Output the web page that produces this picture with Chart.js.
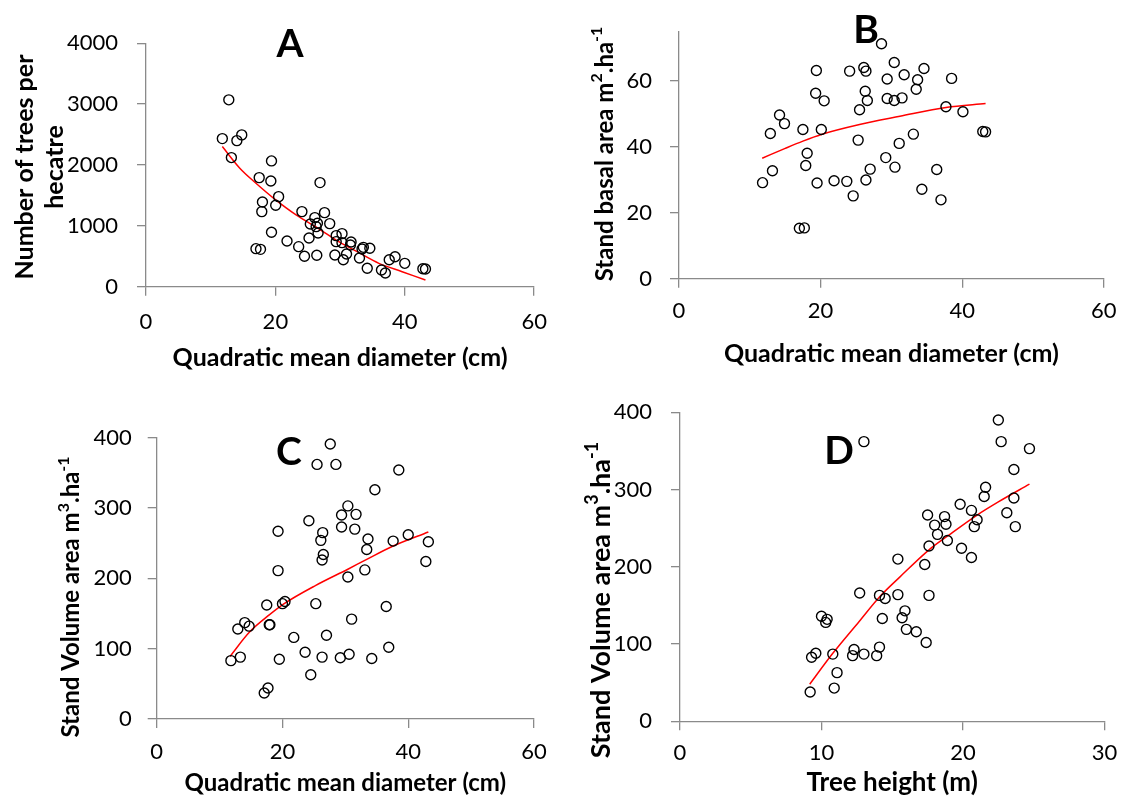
<!DOCTYPE html>
<html>
<head>
<meta charset="utf-8">
<script src="https://cdn.jsdelivr.net/npm/chart.js@4.4.1/dist/chart.umd.min.js"></script>
<style>
  body { margin: 0; background: #fff; }
  #wrap { position: relative; width: 1127px; height: 798px; overflow: hidden; background: #fff; }
  canvas { position: absolute; }
</style>
</head>
<body>
<div id="wrap">
  <canvas id="chartA" width="560" height="380" style="left:0;top:0"></canvas>
  <canvas id="chartB" width="567" height="380" style="left:560px;top:0"></canvas>
  <canvas id="chartC" width="560" height="418" style="left:0;top:380px"></canvas>
  <canvas id="chartD" width="567" height="418" style="left:560px;top:380px"></canvas>
</div>
<script>
// Panel A - trees per hectare vs quadratic mean diameter
const qmdA = [12.8, 11.8, 14.05, 14.8, 13.2, 19.4, 17.5, 19.3, 26.9, 20.5, 18.0, 20.05, 17.9, 24.1, 27.6, 26.1, 25.4, 26.5, 28.4, 26.3,
  26.6, 19.4, 25.2, 21.8, 29.4, 30.3, 29.4, 30.3, 31.7, 31.6, 33.4, 34.6, 33.6, 17.0, 17.7, 23.6, 24.5, 26.4, 29.2, 31.0,
  30.5, 33.0, 34.2, 37.6, 38.5, 40.0, 36.4, 37.0, 42.8, 43.2];
const treesA = [3071, 2434, 2401, 2495, 2122, 2067, 1793, 1738, 1711, 1480, 1393, 1338, 1234, 1234, 1217, 1135, 1031, 1042, 1037, 987,
  883, 894, 801, 752, 839, 872, 740, 724, 735, 686, 620, 631, 647, 625, 614, 658, 500, 516, 521, 538,
  444, 472, 302, 444, 493, 384, 275, 225, 296, 291];
const fitQmdA = [11.8, 14.5, 17.0, 20.05, 23.2, 26.6, 29.8, 32.9, 36.0, 39.6, 43.2];
const fitTreesA = [2303, 1947, 1700, 1426, 1179, 960, 740, 559, 384, 247, 110];

// Panel B - stand basal area
const qmdB = [28.6, 19.4, 24.1, 26.1, 26.4, 30.4, 34.6, 31.8, 29.4, 33.7, 38.5, 33.5, 19.3, 26.3, 20.5, 26.6, 29.4, 30.4, 31.5, 25.5,
  37.7, 40.1, 14.2, 14.9, 12.9, 17.5, 20.1, 33.1, 42.9, 43.3, 25.3, 31.1, 18.1, 29.2, 17.9, 30.5, 13.2, 27.0, 36.4, 11.8,
  19.5, 21.9, 23.7, 26.4, 34.3, 24.6, 37.0, 17.0, 17.7];
const basalB = [71.2, 63.1, 62.9, 64.0, 62.9, 65.5, 63.7, 61.8, 60.5, 60.3, 60.7, 57.4, 56.2, 56.8, 53.9, 54.0, 54.6, 54.0, 54.8, 51.2,
  52.1, 50.6, 49.6, 47.0, 44.0, 45.2, 45.2, 43.8, 44.6, 44.5, 42.0, 41.0, 38.0, 36.7, 34.3, 33.8, 32.7, 33.2, 33.1, 29.1,
  29.0, 29.7, 29.5, 29.9, 27.1, 25.1, 23.9, 15.3, 15.4];
const fitQmdB = [11.75, 15.0, 17.5, 20.1, 25.5, 31.2, 37.7, 43.3];
const fitBasalB = [36.5, 39.5, 41.7, 43.7, 46.7, 49.2, 51.9, 53.1];

// Panel C - stand volume vs diameter
const qmdC = [27.6, 25.5, 28.5, 38.5, 34.7, 30.4, 29.4, 31.7, 24.2, 29.4, 31.5, 19.3, 26.4, 26.1, 33.6, 37.6, 40.0, 43.2, 33.4, 26.5,
  26.3, 42.8, 19.3, 33.1, 30.4, 17.5, 20.0, 20.4, 25.3, 36.5, 14.0, 14.7, 12.9, 17.9, 18.0, 31.0, 27.0, 21.8, 23.6, 36.9,
  11.8, 13.3, 19.5, 26.3, 29.2, 30.6, 34.2, 24.5, 17.1, 17.7];
const volC = [391, 362, 362, 354, 326, 303, 290, 291, 282, 273, 270, 267, 265, 254, 256, 253, 262, 252, 241, 234,
  226, 224, 211, 212, 202, 162, 164, 167, 164, 160, 137, 132, 128, 134, 134, 142, 119, 116, 95, 102,
  83, 88, 85, 88, 87, 92, 86, 63, 37, 44];
const fitQmdC = [11.65, 14.8, 17.9, 20.1, 25.3, 30.4, 33.4, 37.6, 43.2];
const fitVolC = [89, 124, 148, 163, 190, 213, 227, 246, 266];

// Panel D - stand volume vs tree height
const heightD = [22.5, 22.7, 24.7, 13.0, 23.6, 21.6, 21.5, 23.6, 19.8, 20.6, 23.1, 21.0, 20.8, 23.7, 17.5, 18.7, 18.0, 18.8, 18.2, 18.9,
  17.6, 19.9, 20.6, 15.4, 17.3, 12.7, 14.1, 14.5, 15.4, 17.6, 15.9, 15.7, 14.3, 16.0, 16.7, 17.4, 10.0, 10.4, 10.3, 9.6,
  9.3, 10.8, 12.3, 12.2, 13.0, 14.1, 13.9, 11.1, 10.9, 9.2];
const volD = [390, 362, 353, 362, 326, 303, 291, 289, 281, 273, 270, 261, 252, 252, 267, 265, 254, 255, 242, 234,
  227, 224, 212, 210, 203, 166, 163, 159, 164, 163, 143, 134, 133, 119, 116, 102, 136, 132, 128, 88,
  83, 87, 93, 85, 87, 96, 85, 63, 43, 38];
const fitHeightD = [9.17, 10.8, 12.65, 14.1, 15.55, 17.6, 19.0, 21.0, 22.5, 24.7];
const fitVolD = [48, 88, 129, 161, 187, 222, 241, 267, 284, 307];

const FONT = 'Lato, "DejaVu Sans", sans-serif';
const AXIS_GREY = '#8a8a8a';
const TICK_SIZE = 22;
Chart.defaults.font.family = FONT;
Chart.defaults.color = '#000';

const pairs = (xs, ys) => xs.map((x, i) => ({ x: x, y: ys[i] }));

// draws one rotated title line, parts with sup:true are raised and smaller
function drawRotated(ctx, parts, cx, cy, size) {
  const base = 'bold ' + size + 'px ' + FONT;
  const small = 'bold ' + Math.round(size * 0.65) + 'px ' + FONT;
  ctx.save();
  ctx.translate(cx, cy);
  ctx.rotate(-Math.PI / 2);
  ctx.textAlign = 'left';
  ctx.textBaseline = 'middle';
  let total = 0;
  parts.forEach(p => { ctx.font = p.sup ? small : base; total += ctx.measureText(p.t).width; });
  let x = -total / 2;
  parts.forEach(p => {
    ctx.font = p.sup ? small : base;
    ctx.fillText(p.t, x, p.sup ? -size * 0.34 : 0);
    x += ctx.measureText(p.t).width;
  });
  ctx.restore();
}

function textPlugin(cfg) {
  return {
    id: 'panelText',
    afterDraw(chart) {
      const ctx = chart.ctx;
      ctx.save();
      ctx.fillStyle = '#000';
      ctx.font = 'bold 39px ' + FONT;
      ctx.textAlign = 'center';
      ctx.textBaseline = 'middle';
      ctx.fillText(cfg.letter, cfg.letterX, cfg.letterY);
      cfg.yTitle.forEach((line, i) => drawRotated(ctx, line, cfg.titleX[i], cfg.titleY, cfg.titleSize));
      ctx.restore();
    }
  };
}

function makePanel(id, p) {
  const yStep = p.yStep;
  new Chart(document.getElementById(id), {
    type: 'scatter',
    data: {
      datasets: [
        {
          data: pairs(p.xs, p.ys),
          pointStyle: 'circle',
          pointRadius: 5,
          pointHoverRadius: 5,
          pointBorderWidth: 1.4,
          pointBorderColor: '#000',
          pointBackgroundColor: 'rgba(0,0,0,0)',
          showLine: false
        },
        {
          data: pairs(p.fitX, p.fitY),
          showLine: true,
          borderColor: '#ff0000',
          borderWidth: 1.5,
          pointRadius: 0,
          cubicInterpolationMode: 'monotone',
          fill: false
        }
      ]
    },
    options: {
      responsive: false,
      animation: false,
      devicePixelRatio: 1,
      layout: { padding: { top: p.padTop, right: p.padRight, left: 0, bottom: 0 } },
      plugins: { legend: { display: false }, tooltip: { enabled: false } },
      scales: {
        x: {
          type: 'linear',
          min: 0,
          max: p.xMax,
          ticks: { stepSize: p.xStep, padding: p.xTickPad - 0.6, font: { size: TICK_SIZE }, color: '#000', maxRotation: 0,
            callback: v => String(v) },
          grid: { display: true, drawOnChartArea: false, drawTicks: true, tickLength: 9, color: AXIS_GREY, lineWidth: 1.3 },
          border: { display: true, color: AXIS_GREY, width: 1.3 },
          title: {
            display: true,
            text: p.xTitle,
            color: '#000',
            font: { size: p.xTitleSize, weight: 'bold', lineHeight: 1.2 },
            padding: { top: 0, bottom: p.xTitlePad }
          },
          afterFit: s => { s.height = p.xHeight; }
        },
        y: {
          type: 'linear',
          min: 0,
          max: p.yMax,
          ticks: { stepSize: yStep, padding: p.yTickPad, font: { size: TICK_SIZE }, color: '#000',
            callback: v => String(v) },
          afterBuildTicks: s => { s.ticks = s.ticks.filter(t => t.value % yStep === 0); },
          grid: { display: true, drawOnChartArea: false, drawTicks: true, tickLength: 9, color: AXIS_GREY, lineWidth: 1.3 },
          border: { display: true, color: AXIS_GREY, width: 1.3 },
          afterFit: s => { s.width = p.yWidth; }
        }
      }
    },
    plugins: [textPlugin(p.text)]
  });
}

makePanel('chartA', {
  xs: qmdA, ys: treesA, fitX: fitQmdA, fitY: fitTreesA,
  xMax: 60, xStep: 20, yMax: 4000, yStep: 1000,
  padTop: 43.3, padRight: 24, yWidth: 146, xHeight: 93.3,
  xTickPad: 13.7, yTickPad: 19, xTitlePad: 7, xTitleSize: 25,
  xTitle: 'Quadratic mean diameter (cm)',
  text: {
    letter: 'A', letterX: 290, letterY: 44, titleSize: 25,
    yTitle: [[{ t: 'Number of trees per' }], [{ t: 'hecatre' }]],
    titleX: [25, 55], titleY: 167
  }
});

makePanel('chartB', {
  xs: qmdB, ys: basalB, fitX: fitQmdB, fitY: fitBasalB,
  xMax: 60, xStep: 20, yMax: 75, yStep: 20,
  padTop: 18.7, padRight: 16.3, yWidth: 119, xHeight: 101.3,
  xTickPad: 11, yTickPad: 18, xTitlePad: 11, xTitleSize: 25,
  xTitle: 'Quadratic mean diameter (cm)',
  text: {
    letter: 'B', letterX: 306, letterY: 30, titleSize: 24,
    yTitle: [[{ t: 'Stand basal area m' }, { t: '2', sup: true }, { t: '.ha' }, { t: '-1', sup: true }]],
    titleX: [45], titleY: 154
  }
});

makePanel('chartC', {
  xs: qmdC, ys: volC, fitX: fitQmdC, fitY: fitVolC,
  xMax: 60, xStep: 20, yMax: 400, yStep: 100,
  padTop: 57.7, padRight: 26, yWidth: 156.7, xHeight: 79,
  xTickPad: 11.4, yTickPad: 16, xTitlePad: 0, xTitleSize: 24,
  xTitle: 'Quadratic mean diameter (cm)',
  text: {
    letter: 'C', letterX: 289, letterY: 72, titleSize: 24,
    yTitle: [[{ t: 'Stand Volume area m' }, { t: '3', sup: true }, { t: '.ha' }, { t: '-1', sup: true }]],
    titleX: [71.7], titleY: 217
  }
});

makePanel('chartD', {
  xs: heightD, ys: volD, fitX: fitHeightD, fitY: fitVolD,
  xMax: 30, xStep: 10, yMax: 400, yStep: 100,
  padTop: 32.3, padRight: 16.3, yWidth: 120, xHeight: 76.7,
  xTickPad: 10.4, yTickPad: 19, xTitlePad: 0, xTitleSize: 26,
  xTitle: 'Tree height (m)',
  text: {
    letter: 'D', letterX: 279, letterY: 71, titleSize: 27,
    yTitle: [[{ t: 'Stand Volume area m' }, { t: '3', sup: true }, { t: '.ha' }, { t: '-1', sup: true }]],
    titleX: [41.7], titleY: 220
  }
});
</script>
</body>
</html>
